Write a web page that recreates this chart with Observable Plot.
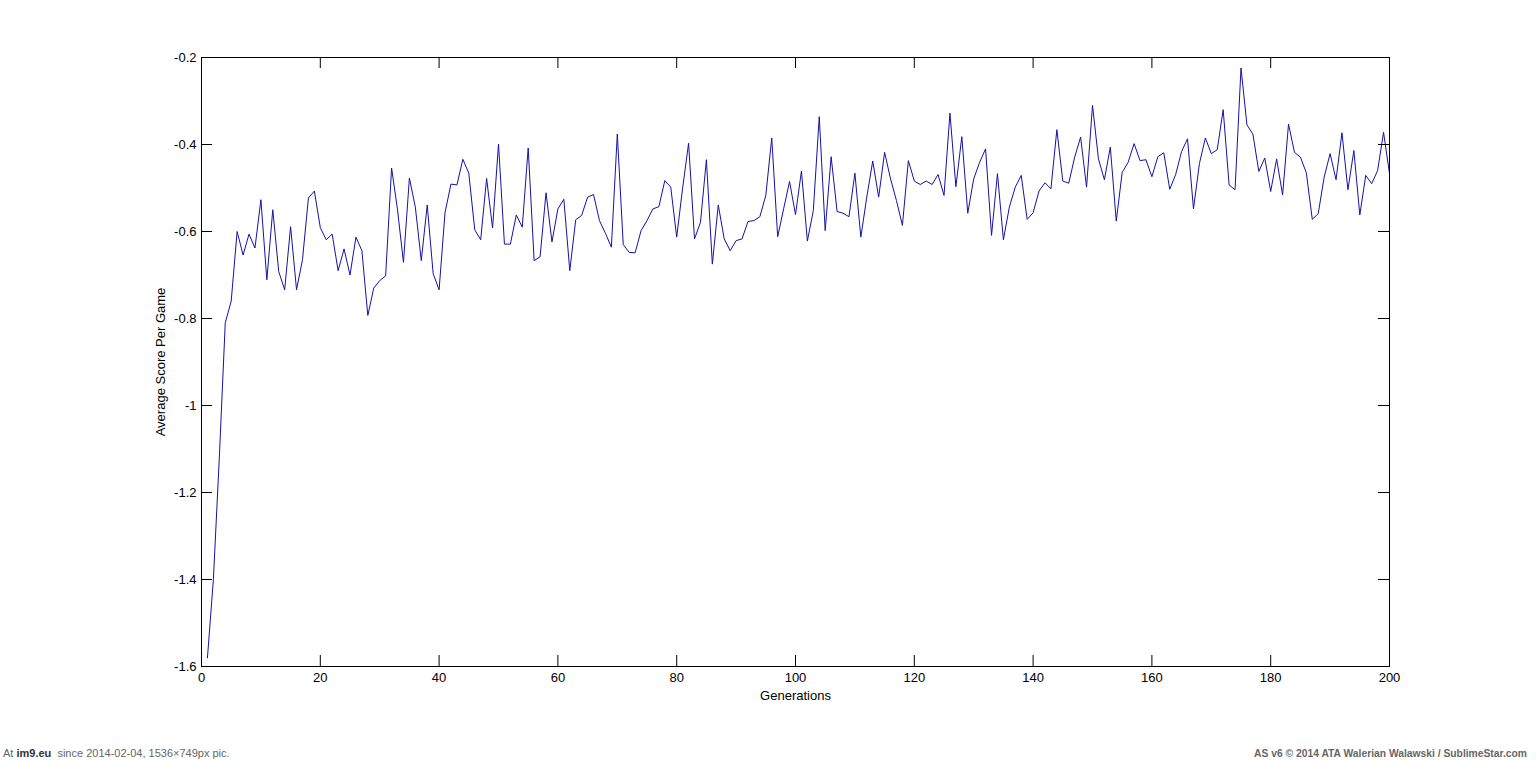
<!DOCTYPE html>
<html><head><meta charset="utf-8">
<script src="https://cdn.jsdelivr.net/npm/d3@7"></script>
<script src="https://cdn.jsdelivr.net/npm/@observablehq/plot@0.6"></script>
<style>
html,body{margin:0;padding:0;background:#fff}
body{width:1536px;height:761px;overflow:hidden;position:relative;font-family:"Liberation Sans",Arial,sans-serif}
#chart{position:absolute;left:0;top:0}
.foot{position:absolute;top:747px;font-size:11px;color:#666;white-space:nowrap}
</style></head><body>
<div id="chart"></div>
<div class="foot" style="left:3px">At <b style="color:#333">im9.eu</b>&nbsp; since 2014-02-04, 1536×749px pic.</div>
<div class="foot" style="right:9px;font-weight:bold;font-size:10.3px;top:748px">AS v6 © 2014 ATA Walerian Walawski / SublimeStar.com</div>
<script>
// Average score per game for generations 1..200
const scores = [
-1.58,-1.40,-1.12,-0.81,-0.76,-0.60,-0.654,-0.606,-0.638,-0.527,
-0.711,-0.55,-0.692,-0.734,-0.589,-0.734,-0.665,-0.523,-0.507,-0.591,
-0.619,-0.606,-0.69,-0.64,-0.70,-0.613,-0.644,-0.793,-0.73,-0.713,
-0.702,-0.454,-0.55,-0.671,-0.477,-0.544,-0.667,-0.539,-0.697,-0.734,
-0.556,-0.491,-0.493,-0.434,-0.466,-0.596,-0.619,-0.478,-0.592,-0.399,
-0.629,-0.629,-0.562,-0.590,-0.408,-0.667,-0.658,-0.511,-0.624,-0.548,
-0.526,-0.690,-0.573,-0.563,-0.521,-0.515,-0.575,-0.604,-0.636,-0.376,
-0.630,-0.648,-0.649,-0.598,-0.575,-0.548,-0.543,-0.483,-0.498,-0.613,
-0.50,-0.397,-0.617,-0.579,-0.435,-0.675,-0.539,-0.617,-0.644,-0.621,
-0.617,-0.577,-0.575,-0.566,-0.517,-0.385,-0.612,-0.548,-0.485,-0.561,
-0.461,-0.622,-0.552,-0.336,-0.598,-0.428,-0.554,-0.558,-0.566,-0.466,
-0.613,-0.521,-0.438,-0.521,-0.418,-0.479,-0.529,-0.586,-0.437,-0.484,
-0.492,-0.484,-0.492,-0.469,-0.517,-0.328,-0.497,-0.382,-0.558,-0.479,
-0.441,-0.41,-0.609,-0.467,-0.619,-0.544,-0.498,-0.471,-0.572,-0.557,
-0.507,-0.488,-0.502,-0.366,-0.484,-0.489,-0.429,-0.383,-0.498,-0.310,
-0.433,-0.481,-0.406,-0.576,-0.464,-0.441,-0.398,-0.437,-0.435,-0.474,
-0.428,-0.419,-0.503,-0.469,-0.416,-0.387,-0.548,-0.444,-0.385,-0.421,
-0.412,-0.320,-0.493,-0.504,-0.224,-0.355,-0.376,-0.462,-0.431,-0.508,
-0.433,-0.516,-0.353,-0.418,-0.429,-0.465,-0.572,-0.559,-0.475,-0.421,
-0.481,-0.373,-0.504,-0.414,-0.562,-0.471,-0.490,-0.460,-0.372,-0.467
];
const xTicks = [0,20,40,60,80,100,120,140,160,180,200];
const yTicks = [-1.6,-1.4,-1.2,-1,-0.8,-0.6,-0.4,-0.2];
const xLabel = "Generations";
const yLabel = "Average Score Per Game";

const data = scores.map((v, i) => ({generation: i + 1, score: v}));

const W = 1536, H = 740;
const mL = 201, mR = 147, mT = 57, mB = 74;
const pw = W - mL - mR, ph = H - mT - mB;
const tl = 11;

const chart = Plot.plot({
  width: W, height: H,
  marginLeft: mL, marginRight: mR, marginTop: mT, marginBottom: mB,
  style: {fontFamily: "'Liberation Sans', Arial, sans-serif", fontSize: "13px", background: "#fff", color: "#000", overflow: "visible"},
  x: {domain: [0, 200]},
  y: {domain: [-1.6, -0.2]},
  marks: [
    Plot.lineY(data, {x: "generation", y: "score", stroke: "#1212a6", strokeWidth: 1}),
    Plot.frame({stroke: "#000", strokeWidth: 1}),
    Plot.tickY(yTicks, {y: d => d, stroke: "#000", insetRight: pw - tl}),
    Plot.tickY(yTicks, {y: d => d, stroke: "#000", insetLeft: pw - tl}),
    Plot.tickX(xTicks, {x: d => d, stroke: "#000", insetTop: ph - tl}),
    Plot.tickX(xTicks, {x: d => d, stroke: "#000", insetBottom: ph - tl}),
    Plot.axisY({ticks: yTicks, tickSize: 0, tickPadding: 5, tickFormat: d => String(d), label: null}),
    Plot.axisX({ticks: xTicks, tickSize: 0, tickPadding: 6, tickFormat: d => String(d), label: null}),
    Plot.text([xLabel], {text: d => d, frameAnchor: "bottom", lineAnchor: "middle", textAnchor: "middle", dy: 29, fill: "#000"}),
    Plot.text([yLabel], {text: d => d, frameAnchor: "left", textAnchor: "middle", lineAnchor: "middle", rotate: -90, dx: -41, fill: "#000"})
  ]
});
document.getElementById("chart").appendChild(chart);
</script>
</body></html>
